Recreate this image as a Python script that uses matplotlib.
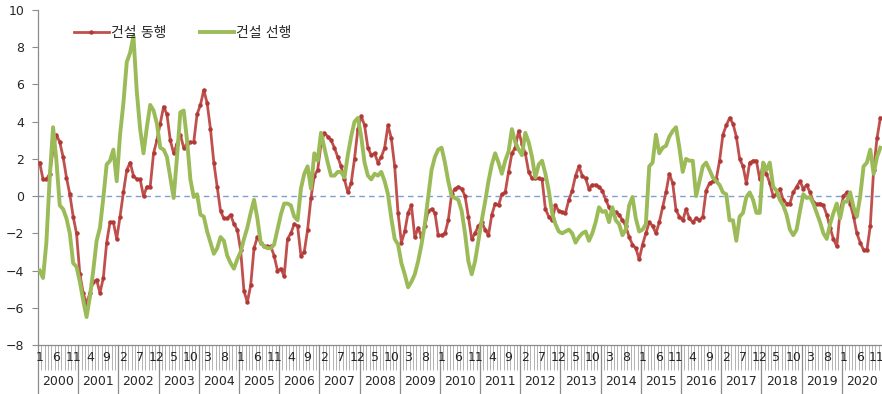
import matplotlib
matplotlib.use("Agg")
import matplotlib.pyplot as plt
import numpy as np

plt.rcParams['font.family'] = ['DejaVu Sans', 'Noto Sans CJK KR']

years = list(range(2000, 2021))

# 건설 동행 (monthly, Jan..Dec per row)
coincident = [
    1.8, 0.9, 0.9, 1.2, 2.5, 3.3, 2.9, 2.1, 1.0, 0.1, -1.1, -2.0,
    -4.2, -5.2, -5.8, -5.2, -4.6, -4.5, -5.2, -4.4, -2.5, -1.4, -1.4, -2.3,
    -1.1, 0.2, 1.4, 1.8, 1.1, 0.9, 0.9, 0.0, 0.5, 0.5, 2.3, 3.0,
    3.9, 4.8, 4.4, 3.0, 2.3, 2.8, 3.3, 2.6, 2.8, 2.9, 2.9, 4.4,
    4.9, 5.7, 5.0, 3.6, 1.8, 0.5, -0.8, -1.2, -1.2, -1.0, -1.5, -1.8,
    -2.9, -5.1, -5.7, -4.8, -2.8, -2.2, -2.5, -2.7, -2.7, -2.7, -3.2, -4.0,
    -3.9, -4.3, -2.3, -2.0, -1.5, -1.6, -3.2, -3.0, -1.8, -0.1, 1.1, 1.4,
    2.8, 3.4, 3.2, 3.0, 2.6, 2.1, 1.6, 0.9, 0.2, 0.7, 2.0, 3.6,
    4.3, 3.8, 2.6, 2.2, 2.3, 1.8, 2.1, 2.6, 3.8, 3.1, 1.6, -0.9,
    -2.5, -1.9, -0.9, -0.5, -2.2, -1.7, -2.2, -1.6, -0.8, -0.7, -0.9, -2.1,
    -2.1, -2.0, -1.3, 0.1, 0.4, 0.5, 0.4, 0.0, -1.1, -2.3, -2.0, -1.6,
    -1.4, -1.8, -2.1, -1.0, -0.4, -0.5, 0.1, 0.2, 1.3, 2.3, 2.6, 3.5,
    2.8, 2.3, 1.3, 0.95, 0.95, 0.95, 0.9, -0.7, -1.1, -1.3, -0.5, -0.8,
    -0.85, -0.9, -0.2, 0.3, 1.1, 1.6, 1.1, 0.95, 0.4, 0.6, 0.6, 0.5,
    0.3, -0.2, -0.6, -0.9, -0.85, -1.0, -1.3, -1.6, -2.2, -2.6, -2.8, -3.4,
    -2.6, -2.0, -1.4, -1.6, -2.0, -1.4, -0.6, 0.2, 1.2, 0.7, -0.75, -1.1,
    -1.3, -0.7, -1.2, -1.4, -1.2, -1.3, -1.1, 0.3, 0.7, 0.8, 0.9, 1.9,
    3.3, 3.8, 4.2, 3.9, 3.2, 2.0, 1.6, 0.7, 1.8, 1.9, 1.9, 0.9,
    1.7, 1.2, 0.7, 0.0, 0.1, 0.4, -0.2, -0.4, -0.4, 0.2, 0.5, 0.8,
    0.4, 0.6, 0.2, -0.3, -0.45, -0.4, -0.5, -1.0, -1.7, -2.3, -2.7, -0.8,
    0.0, 0.2, -0.4, -1.1, -2.0, -2.5, -2.9, -2.9, -1.6, 1.4, 3.1, 4.2,
]

# 건설 선행 (monthly, Jan..Dec per row)
leading = [
    -4.0, -4.4, -2.5, 1.0, 3.7, 1.9, -0.5, -0.7, -1.2, -2.0, -3.6, -3.8,
    -4.6, -5.6, -6.5, -5.4, -4.0, -2.4, -1.7, -0.1, 1.7, 1.9, 2.5, 0.8,
    3.3, 5.0, 7.2, 7.7, 8.6, 5.6, 3.6, 2.3, 3.7, 4.9, 4.6, 3.9,
    2.6, 2.5, 2.1, 1.0, -0.1, 2.1, 4.5, 4.6, 3.0, 0.9, -0.05, 0.1,
    -1.0, -1.1, -1.9, -2.5, -3.1, -2.8, -2.2, -2.4, -3.2, -3.6, -3.9, -3.4,
    -3.0, -2.3, -1.7, -0.9, -0.2, -1.2, -2.5, -2.7, -2.8, -2.8, -2.6, -1.8,
    -1.0, -0.4, -0.4, -0.5, -1.1, -1.3, 0.4, 1.2, 1.6, 0.4, 2.3, 1.9,
    3.4, 2.6, 1.8, 1.1, 1.1, 1.3, 1.3, 1.0, 2.2, 3.2, 4.0, 4.2,
    3.2, 1.8, 1.1, 0.9, 1.2, 1.1, 1.3, 0.8, 0.1, -1.2, -2.3, -2.6,
    -3.6, -4.2, -4.9, -4.6, -4.2, -3.5, -2.6, -1.5, -0.05, 1.4, 2.1, 2.5,
    2.6, 1.8, 0.8, 0.0, -0.1, -0.2, -0.8, -2.0, -3.5, -4.2, -3.5, -2.4,
    -1.3, -0.3, 0.8, 1.7, 2.3, 1.8, 1.2, 1.9, 2.4, 3.6, 2.9, 2.5,
    2.2, 3.4, 2.9, 2.1, 1.0, 1.7, 1.9, 1.2, 0.3, -0.9, -1.5, -1.9,
    -2.0, -1.9, -1.8, -2.0, -2.5, -2.2, -2.0, -1.9, -2.4, -2.0, -1.4, -0.6,
    -0.85, -0.8, -1.4, -0.6, -1.3, -1.5, -2.1, -1.8, -0.5, -0.05, -1.2, -1.9,
    -1.8, -1.5, 1.6, 1.8, 3.3, 2.3, 2.6, 2.7, 3.2, 3.5, 3.7, 2.6,
    1.3, 2.0, 1.9, 1.9, 0.0, 0.8, 1.6, 1.8, 1.4, 1.0, 0.8, 0.6,
    0.2, 0.1, -1.3, -1.3, -2.4, -1.1, -0.9, -0.05, 0.2, -0.2, -0.9, -0.9,
    1.8, 1.4, 1.8, 0.5, 0.3, -0.2, -0.5, -1.0, -1.8, -2.1, -1.8, -0.8,
    0.1, -0.1, -0.05, -0.4, -0.9, -1.4, -2.0, -2.3, -1.5, -0.9, -0.4, -1.2,
    -0.3, -0.3, 0.2, -0.6, -1.1, 0.0, 1.6, 1.8, 2.5, 1.2, 2.1, 2.6,
]

series_names = ['건설 동행', '건설 선행']

n = len(coincident)
x = np.arange(n)
month_no = [(i % 12) + 1 for i in range(n)]

fig = plt.figure(figsize=(8.82, 3.94), dpi=100)
ax = fig.add_axes([38 / 882, 1 - 345 / 394, 844 / 882, 335 / 394])

ax.plot(x, coincident, color='#C0504D', lw=2.0, marker='o', ms=2.2,
        mfc='#B23A36', mec='#B23A36', label=series_names[0], zorder=3)
ax.plot(x, leading, color='#9BBB59', lw=2.8, label=series_names[1],
        zorder=4, solid_joinstyle='round')
ax.axhline(0, color='#7F9FD0', lw=1.0, ls=(0, (4, 3)), zorder=2)

ax.set_xlim(-0.5, n - 0.5)
ax.set_ylim(-8, 10)
ax.set_yticks(np.arange(-8, 11, 2))
ax.tick_params(axis='y', length=4, width=0.8, color='#8C8C8C', pad=6,
               labelsize=9, labelcolor='#262626')

# category boundaries as long ticks, labels every 5th month
ax.set_xticks(np.arange(-0.5, n, 1))
ax.set_xticklabels([])
ax.tick_params(axis='x', length=18, width=0.6, color='#A6A6A6')

for sp in ['top', 'right']:
    ax.spines[sp].set_visible(False)
for sp in ['left', 'bottom']:
    ax.spines[sp].set_color('#8C8C8C')
    ax.spines[sp].set_linewidth(0.9)

trans = ax.get_xaxis_transform()
for i in range(0, n, 5):
    ax.text(x[i], -0.036, str(month_no[i]), transform=trans, ha='center',
            va='center', fontsize=9, color='#262626', clip_on=False)

for k, yr in enumerate(years):
    ax.text(12 * k + 5.5, -0.11, str(yr), transform=trans, ha='center',
            va='center', fontsize=9, color='#262626', clip_on=False)
    ax.plot([12 * k - 0.5, 12 * k - 0.5], [0, -0.15], transform=trans,
            color='#8C8C8C', lw=0.9, clip_on=False)

leg = ax.legend(loc='upper left', bbox_to_anchor=(0.028, 0.99), ncol=2,
                frameon=False, fontsize=10, handlelength=2.5, numpoints=1,
                columnspacing=2.4, handletextpad=0.15)
for t in leg.get_texts():
    t.set_color('#262626')

fig.savefig('out.png', dpi=100)
